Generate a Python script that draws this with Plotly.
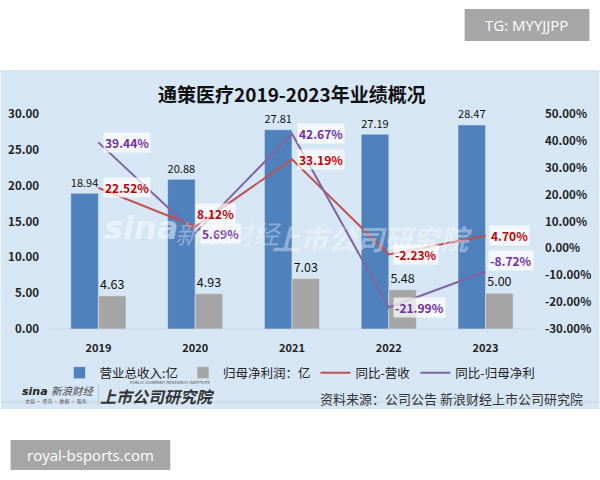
import plotly.graph_objects as go

years = ["2019", "2020", "2021", "2022", "2023"]
revenue = [18.94, 20.88, 27.81, 27.19, 28.47]
net_profit = [4.63, 4.93, 7.03, 5.48, 5.00]
rev_yoy = [22.52, 8.12, 33.19, -2.23, 4.70]
profit_yoy = [39.44, 5.69, 42.67, -21.99, -8.72]

left_ticks = [0, 5, 10, 15, 20, 25, 30]
right_ticks = [-30, -20, -10, 0, 10, 20, 30, 40, 50]

FONT = "Noto Sans CJK SC"
BLUE = "#4f81bd"
GREY = "#a5a5a5"
RED = "#c0504d"
PURPLE = "#8064a2"

fig = go.Figure()
fig.add_trace(go.Bar(
    x=years, y=revenue, name="营业总收入:亿", marker_color=BLUE,
    text=[f"{v:.2f}" for v in revenue], textposition="outside",
    textfont=dict(size=12.5, color="#111", family=FONT), cliponaxis=False))
fig.add_trace(go.Bar(
    x=years, y=net_profit, name="归母净利润：亿", marker_color=GREY,
    text=[f"{v:.2f}" for v in net_profit], textposition="outside",
    textfont=dict(size=12.5, color="#111", family=FONT), cliponaxis=False))
fig.add_trace(go.Scatter(
    x=years, y=rev_yoy, name="同比-营收", mode="lines",
    line=dict(color=RED, width=2), yaxis="y2"))
fig.add_trace(go.Scatter(
    x=years, y=profit_yoy, name="同比-归母净利", mode="lines",
    line=dict(color=PURPLE, width=2), yaxis="y2"))

# line data labels (white semi-transparent boxes); x given as category index
rev_shift = [(5, 0), (0, 13), (5, 0), (4, 0), (3, 0)]
prof_shift = [(5, 0), (5, 0), (5, 0), (4, 0), (2, 11)]
annotations = []
for i, yr in enumerate(years):
    dx, dy = rev_shift[i]
    annotations.append(dict(
        x=i, y=rev_yoy[i], xref="x", yref="y2", text=f"<b>{rev_yoy[i]:.2f}%</b>",
        showarrow=False, xanchor="left", yanchor="middle", xshift=dx, yshift=dy,
        font=dict(size=12, color="#c00000", family=FONT),
        bgcolor="rgba(255,255,255,0.72)", borderpad=1))
    dx, dy = prof_shift[i]
    annotations.append(dict(
        x=i, y=profit_yoy[i], xref="x", yref="y2", text=f"<b>{profit_yoy[i]:.2f}%</b>",
        showarrow=False, xanchor="left", yanchor="middle", xshift=dx, yshift=dy,
        font=dict(size=12, color="#7030a0", family=FONT),
        bgcolor="rgba(255,255,255,0.72)", borderpad=1))

# pixel helpers for paper coordinates (plot area: x 49.5..534.5, y 114..329)
PL, PR, PT, PB = 49.5, 534.5, 114, 329
def px(x):
    return (x - PL) / (PR - PL)
def py(y):
    return (PB - y) / (PB - PT)

annotations += [
    dict(x=px(292), y=py(93), xref="paper", yref="paper", text="<b>通策医疗2019-2023年业绩概况</b>",
         showarrow=False, font=dict(size=19, color="#111", family=FONT), xanchor="center", yanchor="middle"),
    # watermarks
    dict(x=px(141), y=py(228), xref="paper", yref="paper", text="<b><i>sina</i></b>",
         showarrow=False, font=dict(size=32, color="rgba(255,255,255,0.5)", family="DejaVu Sans"),
         xanchor="center", yanchor="middle"),
    dict(x=px(228), y=py(232), xref="paper", yref="paper", text="<i>新浪财经</i>",
         showarrow=False, font=dict(size=26, color="rgba(255,255,255,0.35)", family=FONT),
         xanchor="center", yanchor="middle"),
    dict(x=px(372), y=py(238), xref="paper", yref="paper", text="<b><i>上市公司研究院</i></b>",
         showarrow=False, font=dict(size=28, color="rgba(255,255,255,0.38)", family=FONT),
         xanchor="center", yanchor="middle"),
    # bottom logos
    dict(x=px(19), y=py(391), xref="paper", yref="paper", text="<b><i>sina</i></b>",
         showarrow=False, font=dict(size=11, color="#222", family="DejaVu Sans"),
         xanchor="left", yanchor="middle"),
    dict(x=px(48), y=py(390), xref="paper", yref="paper", text="<i>新浪财经</i>",
         showarrow=False, font=dict(size=10.5, color="#444", family=FONT),
         xanchor="left", yanchor="middle"),
    dict(x=px(56), y=py(401), xref="paper", yref="paper", text="文易 · 资讯 · 数据 · 服务",
         showarrow=False, font=dict(size=5, color="#555", family=FONT),
         xanchor="center", yanchor="middle"),
    dict(x=px(170), y=py(382), xref="paper", yref="paper", text="PUBLIC COMPANY RESEARCH INSTITUTE",
         showarrow=False, font=dict(size=4, color="#555", family="DejaVu Sans"),
         xanchor="center", yanchor="middle"),
    dict(x=px(157), y=py(396), xref="paper", yref="paper", text="<b><i>上市公司研究院</i></b>",
         showarrow=False, font=dict(size=16, color="#333", family=FONT),
         xanchor="center", yanchor="middle"),
    dict(x=px(586), y=py(398), xref="paper", yref="paper", text="资料来源：公司公告 新浪财经上市公司研究院",
         showarrow=False, font=dict(size=13, color="#333", family=FONT),
         xanchor="right", yanchor="middle"),
    # watermark boxes text
    dict(x=px(527), y=py(25), xref="paper", yref="paper", text="TG: MYYJJPP",
         showarrow=False, font=dict(size=15, color="white", family="Open Sans"),
         xanchor="center", yanchor="middle"),
    dict(x=px(90), y=py(455), xref="paper", yref="paper", text="royal-bsports.com",
         showarrow=False, font=dict(size=15, color="white", family="Open Sans"),
         xanchor="center", yanchor="middle"),
]

shapes = [
    dict(type="rect", xref="paper", yref="paper", x0=px(0), x1=px(600), y0=py(409), y1=py(70),
         fillcolor="#d6e6f4", line=dict(width=0), layer="below"),
    dict(type="line", xref="paper", yref="paper", x0=px(0), x1=px(600), y0=py(402), y1=py(402),
         line=dict(color="#c3d2e0", width=1), layer="below"),
    dict(type="line", xref="paper", yref="paper", x0=px(98), x1=px(98), y0=py(384), y1=py(405),
         line=dict(color="#b9c7d4", width=1), layer="below"),
    dict(type="line", xref="paper", yref="paper", x0=0, x1=1, y0=0, y1=0,
         line=dict(color="#c9d7e4", width=1), layer="below"),
    dict(type="rect", xref="paper", yref="paper", x0=px(465), x1=px(590), y0=py(41), y1=py(9),
         fillcolor="#a6a6a6", line=dict(width=0), layer="below"),
    dict(type="rect", xref="paper", yref="paper", x0=px(10), x1=px(170), y0=py(470), y1=py(440),
         fillcolor="#a6a6a6", line=dict(width=0), layer="below"),
]

fig.update_layout(
    width=600, height=480,
    margin=dict(l=PL, r=600 - PR, t=PT, b=480 - PB, pad=0, autoexpand=False),
    paper_bgcolor="white", plot_bgcolor="rgba(0,0,0,0)",
    barmode="group", bargap=0.43, bargroupgap=0,
    font=dict(family=FONT, color="#222"),
    showlegend=True,
    legend=dict(orientation="h", xref="container", yref="container", x=0.5, xanchor="center",
                y=1 - 373 / 480, yanchor="middle",
                font=dict(size=12.5, color="#222", family=FONT), bgcolor="rgba(0,0,0,0)",
                itemwidth=30, tracegroupgap=0, traceorder="normal"),
    xaxis=dict(type="category", range=[-0.5, 4.5], showgrid=False, showline=False, zeroline=False, ticks="",
               tickfont=dict(size=11, color="#222", family=FONT), ticklabelstandoff=11,
               tickprefix="<b>", ticksuffix="</b>"),
    yaxis=dict(range=[0, 30], tickvals=left_ticks, ticktext=[f"<b>{v:.2f}</b>" for v in left_ticks],
               showgrid=False, zeroline=False, showline=False, ticks="",
               tickfont=dict(size=11.5, color="#222", family=FONT), ticklabelstandoff=10),
    yaxis2=dict(range=[-30, 50], tickvals=right_ticks, ticktext=[f"<b>{v:.2f}%</b>" for v in right_ticks],
                overlaying="y", side="right", showgrid=False, zeroline=False, showline=False, ticks="",
                tickfont=dict(size=11.5, color="#222", family=FONT), ticklabelstandoff=10),
    annotations=annotations,
    shapes=shapes,
)

fig.write_html("out.html")
